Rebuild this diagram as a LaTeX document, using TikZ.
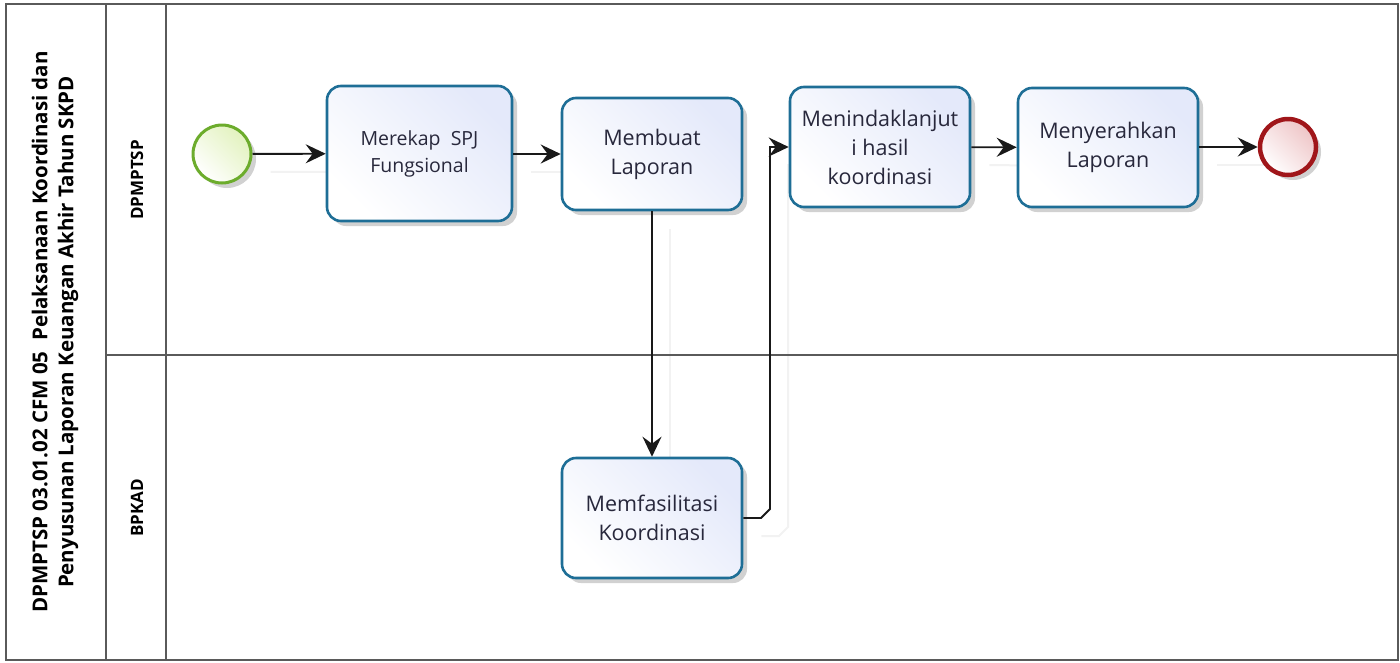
\documentclass[tikz,border=0pt]{standalone}
\usepackage{fontspec}
\setmainfont{Open Sans}
\usetikzlibrary{arrows.meta,shadows}
\pgfdeclarelayer{background}
\pgfsetlayers{background,main}
\definecolor{taskborder}{RGB}{30,110,150}
\definecolor{taskfillB}{RGB}{228,233,250}
\definecolor{startborder}{RGB}{108,172,44}
\definecolor{startfillB}{RGB}{226,242,190}
\definecolor{endborder}{RGB}{160,22,26}
\definecolor{endfillB}{RGB}{238,196,198}
\definecolor{frameclr}{RGB}{90,90,90}
\definecolor{txtclr}{RGB}{40,40,60}
\tikzset{
  task/.style={draw=taskborder, line width=2.6pt, rounded corners=14pt,
    left color=white, right color=taskfillB, shading angle=135,
    drop shadow={shadow xshift=5pt, shadow yshift=-5pt, opacity=0.18, fill=black},
    align=center, font=\fontsize{21.5}{29}\selectfont, text=txtclr, inner sep=0pt},
  startev/.style={circle, draw=startborder, line width=3pt, minimum size=58pt,
    left color=white, right color=startfillB, shading angle=135,
    drop shadow={shadow xshift=5pt, shadow yshift=-5pt, opacity=0.18, fill=black}},
  endev/.style={circle, draw=endborder, line width=4.5pt, minimum size=56pt,
    left color=white, right color=endfillB, shading angle=135,
    drop shadow={shadow xshift=5pt, shadow yshift=-5pt, opacity=0.18, fill=black}},
  flow/.style={line width=1.9pt, draw=black!90, -{Stealth[length=20pt,width=19pt,inset=7pt]}},
  flowshadow/.style={line width=2pt, draw=black!5, transform canvas={xshift=18pt,yshift=-18pt}},
  frame/.style={draw=frameclr, line width=1.8pt},
  lanelbl/.style={rotate=90, font=\bfseries\fontsize{17}{22}\selectfont, text=black},
}
\begin{document}
\begin{tikzpicture}[x=1pt,y=-1pt]
\useasboundingbox (0,0) rectangle (1400,662);
% pool frame
\draw[frame] (6,4) rectangle (1398,660);
\draw[frame] (106,4) -- (106,660);
\draw[frame] (166,4) -- (166,660);
\draw[frame] (106,355) -- (1398,355);
% labels
\node[lanelbl, align=center, font=\bfseries\fontsize{20.5}{26}\selectfont] (title) at (55,332)
  {DPMPTSP 03.01.02 CFM 05\ \ Pelaksanaan Koordinasi dan\\Penyusunan Laporan Keuangan Akhir Tahun SKPD};
\node[lanelbl] (lane1) at (137,180) {DPMPTSP};
\node[lanelbl] (lane2) at (137,508) {BPKAD};
% events and tasks
\node[startev] (start) at (222,154) {};
\node[task, minimum width=185pt, minimum height=135pt, font=\fontsize{19.5}{27}\selectfont] (t1) at (419.5,153.5) {Merekap\ \ SPJ\\Fungsional};
\node[task, minimum width=180pt, minimum height=112pt] (t2) at (652,154) {Membuat\\Laporan};
\node[task, minimum width=180pt, minimum height=120pt] (t3) at (880,147) {Menindaklanjut\\i hasil\\koordinasi};
\node[task, minimum width=180pt, minimum height=119pt] (t4) at (1108,147.5) {Menyerahkan\\Laporan};
\node[endev] (end) at (1288,147) {};
\node[task, minimum width=180pt, minimum height=120pt] (t5) at (652,518) {Memfasilitasi\\Koordinasi};
\coordinate (c1) at (761,518);
\coordinate (c2) at (770,509);
\coordinate (c3) at (770,147);
% faint flow shadows
\begin{pgfonlayer}{background}
\draw[flowshadow] (start) -- (t1);
\draw[flowshadow] (t1.east |- start) -- (t2.west |- start);
\draw[flowshadow] (t2) -- (t5);
\draw[flowshadow] (t5.east) -- (c1) -- (c2) -- (c3) -- (t3.west);
\draw[flowshadow] (t3) -- (t4);
\draw[flowshadow] (t4.east |- end) -- (end);
\end{pgfonlayer}
% flows
\draw[flow] (start) -- (t1);
\draw[flow] (t1.east |- start) -- (t2.west |- start);
\draw[flow] (t2) -- (t5);
\draw[flow] (t5.east) -- (c1) -- (c2) -- (c3) -- (t3.west);
\draw[flow] (t3) -- (t4);
\draw[flow] (t4.east |- end) -- (end);
\end{tikzpicture}
\end{document}
